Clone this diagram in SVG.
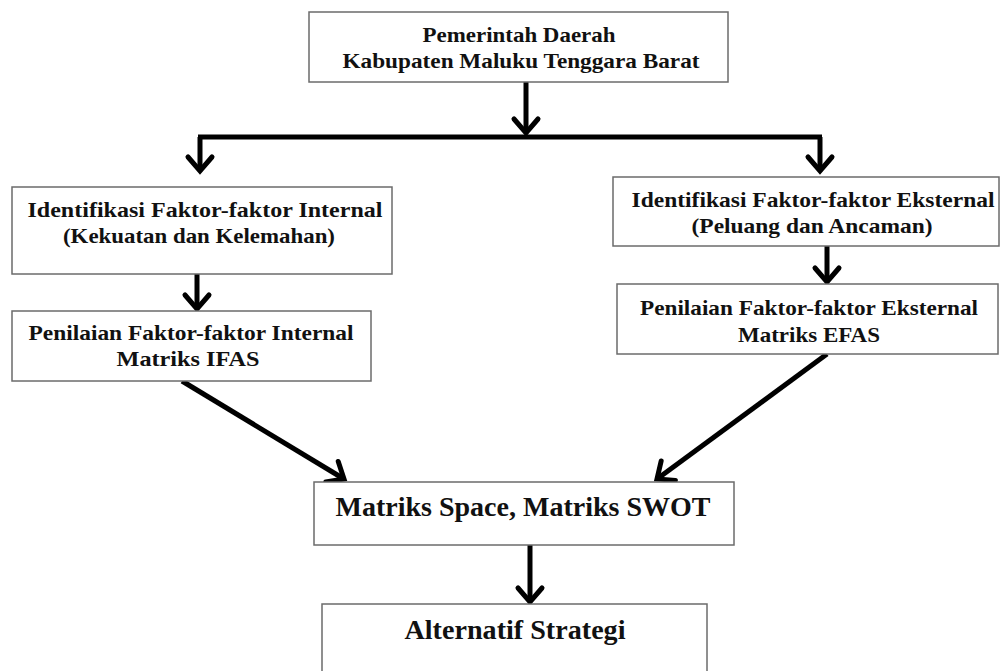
<svg xmlns="http://www.w3.org/2000/svg" width="1000" height="671" viewBox="0 0 1000 671">
<style>
.box{fill:#fff;stroke:#6b6b6b;stroke-width:1.5}
.t{font-family:"Liberation Serif","Times New Roman",serif;font-weight:bold;fill:#111;text-anchor:middle;font-size:21px}
.tb{font-family:"Liberation Serif","Times New Roman",serif;font-weight:bold;fill:#111;text-anchor:middle;font-size:28px}
.c{fill:none;stroke:#000;stroke-width:5}
.a{fill:none;stroke:#000;stroke-width:5;marker-end:url(#ah)}
</style>
<defs>
<marker id="ah" markerUnits="userSpaceOnUse" viewBox="-20 -16 26 32" refX="0" refY="0" markerWidth="26" markerHeight="32" orient="auto">
<path d="M-14,-12 L0,0 L-14,12" fill="none" stroke="#000" stroke-width="5" stroke-linecap="round" stroke-linejoin="miter"/>
</marker>
</defs>
<rect width="1000" height="671" fill="#fff"/>
<g id="connectors">
<line class="a" x1="526" y1="82" x2="526" y2="133"/>
<line class="c" x1="198" y1="137" x2="822" y2="137"/>
<line class="a" x1="200" y1="137" x2="200" y2="171"/>
<line class="a" x1="820" y1="137" x2="820" y2="171"/>
<line class="a" x1="197" y1="274" x2="197" y2="309"/>
<line class="a" x1="827" y1="246" x2="827" y2="282"/>
<line class="a" x1="182" y1="381" x2="344" y2="479"/>
<line class="a" x1="827" y1="354" x2="657" y2="479"/>
<line class="a" x1="530" y1="545" x2="530" y2="602"/>
</g>
<g id="n1">
<rect class="box" x="309" y="12" width="419" height="70"/>
<text class="t" x="519" y="42" textLength="193" lengthAdjust="spacingAndGlyphs">Pemerintah Daerah</text>
<text class="t" x="521" y="68" textLength="357" lengthAdjust="spacingAndGlyphs">Kabupaten Maluku Tenggara Barat</text>
</g>
<g id="n2">
<rect class="box" x="12" y="187" width="380" height="87"/>
<text class="t" x="205" y="217" textLength="355" lengthAdjust="spacingAndGlyphs">Identifikasi Faktor-faktor Internal</text>
<text class="t" x="199" y="243" textLength="272" lengthAdjust="spacingAndGlyphs">(Kekuatan dan Kelemahan)</text>
</g>
<g id="n3">
<rect class="box" x="613" y="177" width="386" height="69"/>
<text class="t" x="813" y="207" textLength="363" lengthAdjust="spacingAndGlyphs">Identifikasi Faktor-faktor Eksternal</text>
<text class="t" x="812" y="233" textLength="241" lengthAdjust="spacingAndGlyphs">(Peluang dan Ancaman)</text>
</g>
<g id="n4">
<rect class="box" x="12" y="311" width="359" height="70"/>
<text class="t" x="191" y="340" textLength="325" lengthAdjust="spacingAndGlyphs">Penilaian Faktor-faktor Internal</text>
<text class="t" x="188" y="366" textLength="143" lengthAdjust="spacingAndGlyphs">Matriks IFAS</text>
</g>
<g id="n5">
<rect class="box" x="617" y="284" width="381" height="70"/>
<text class="t" x="809" y="315" textLength="338" lengthAdjust="spacingAndGlyphs">Penilaian Faktor-faktor Eksternal</text>
<text class="t" x="809" y="342" textLength="142" lengthAdjust="spacingAndGlyphs">Matriks EFAS</text>
</g>
<g id="n6">
<rect class="box" x="314" y="482" width="420" height="63"/>
<text class="tb" x="523" y="516" textLength="375" lengthAdjust="spacingAndGlyphs">Matriks Space, Matriks SWOT</text>
</g>
<g id="n7">
<rect class="box" x="322" y="604" width="385" height="80"/>
<text class="tb" x="515" y="639" textLength="221" lengthAdjust="spacingAndGlyphs">Alternatif Strategi</text>
</g>
</svg>
